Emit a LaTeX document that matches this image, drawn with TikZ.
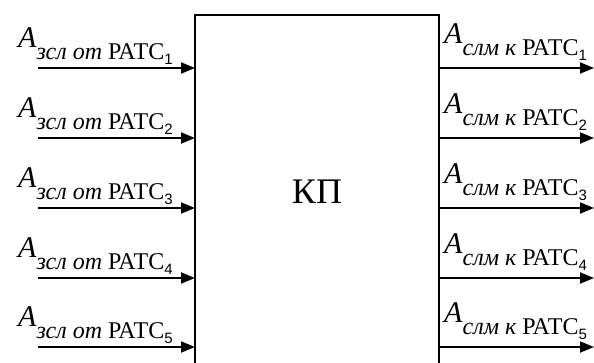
\documentclass[tikz,border=0pt]{standalone}
\usepackage{fontspec}
\setmainfont{Liberation Serif}
\setsansfont{Liberation Sans}
\usetikzlibrary{arrows.meta}

% label: big italic A with a lowered subscript and a sans-serif index
\newcommand{\flowlabel}[3]{%
  {\fontsize{30}{34}\selectfont\textit{A}}%
  \raisebox{-12pt}{\fontsize{24}{28}\selectfont\textit{#1}~#2%
    \raisebox{-5pt}{\sffamily\fontsize{15}{18}\selectfont #3}}}

\tikzset{
  frame/.style={line width=1.8pt},
  flow/.style={line width=1.8pt, -{Triangle[length=14pt,width=11pt]}},
  lbl/.style={inner sep=0pt, anchor=base west}
}

\begin{document}
\begin{tikzpicture}[x=1pt,y=-1pt]
  \useasboundingbox (0,0) rectangle (594,362);

  % switching field block, open at the bottom
  \draw[frame] (195,364) -- (195,15) -- (439,15) -- (439,364);
  \node[font=\fontsize{36}{40}\selectfont, anchor=base] (kp) at (317,203) {КП};

  \foreach \i/\y in {1/68,2/138,3/208,4/278,5/347}{
    % incoming load from each exchange
    \coordinate (in\i) at (38,\y);
    \coordinate (inb\i) at (195,\y);
    \draw[flow] (in\i) -- (inb\i);
    \node[lbl] (li\i) at (18,\y-21) {\flowlabel{зсл от}{РАТС}{\i}};
    % outgoing load to each exchange
    \coordinate (outb\i) at (439,\y);
    \coordinate (out\i) at (594,\y);
    \draw[flow] (outb\i) -- (out\i);
    \node[lbl] (lo\i) at (444,\y-25) {\flowlabel{слм к}{РАТС}{\i}};
  }
\end{tikzpicture}
\end{document}
